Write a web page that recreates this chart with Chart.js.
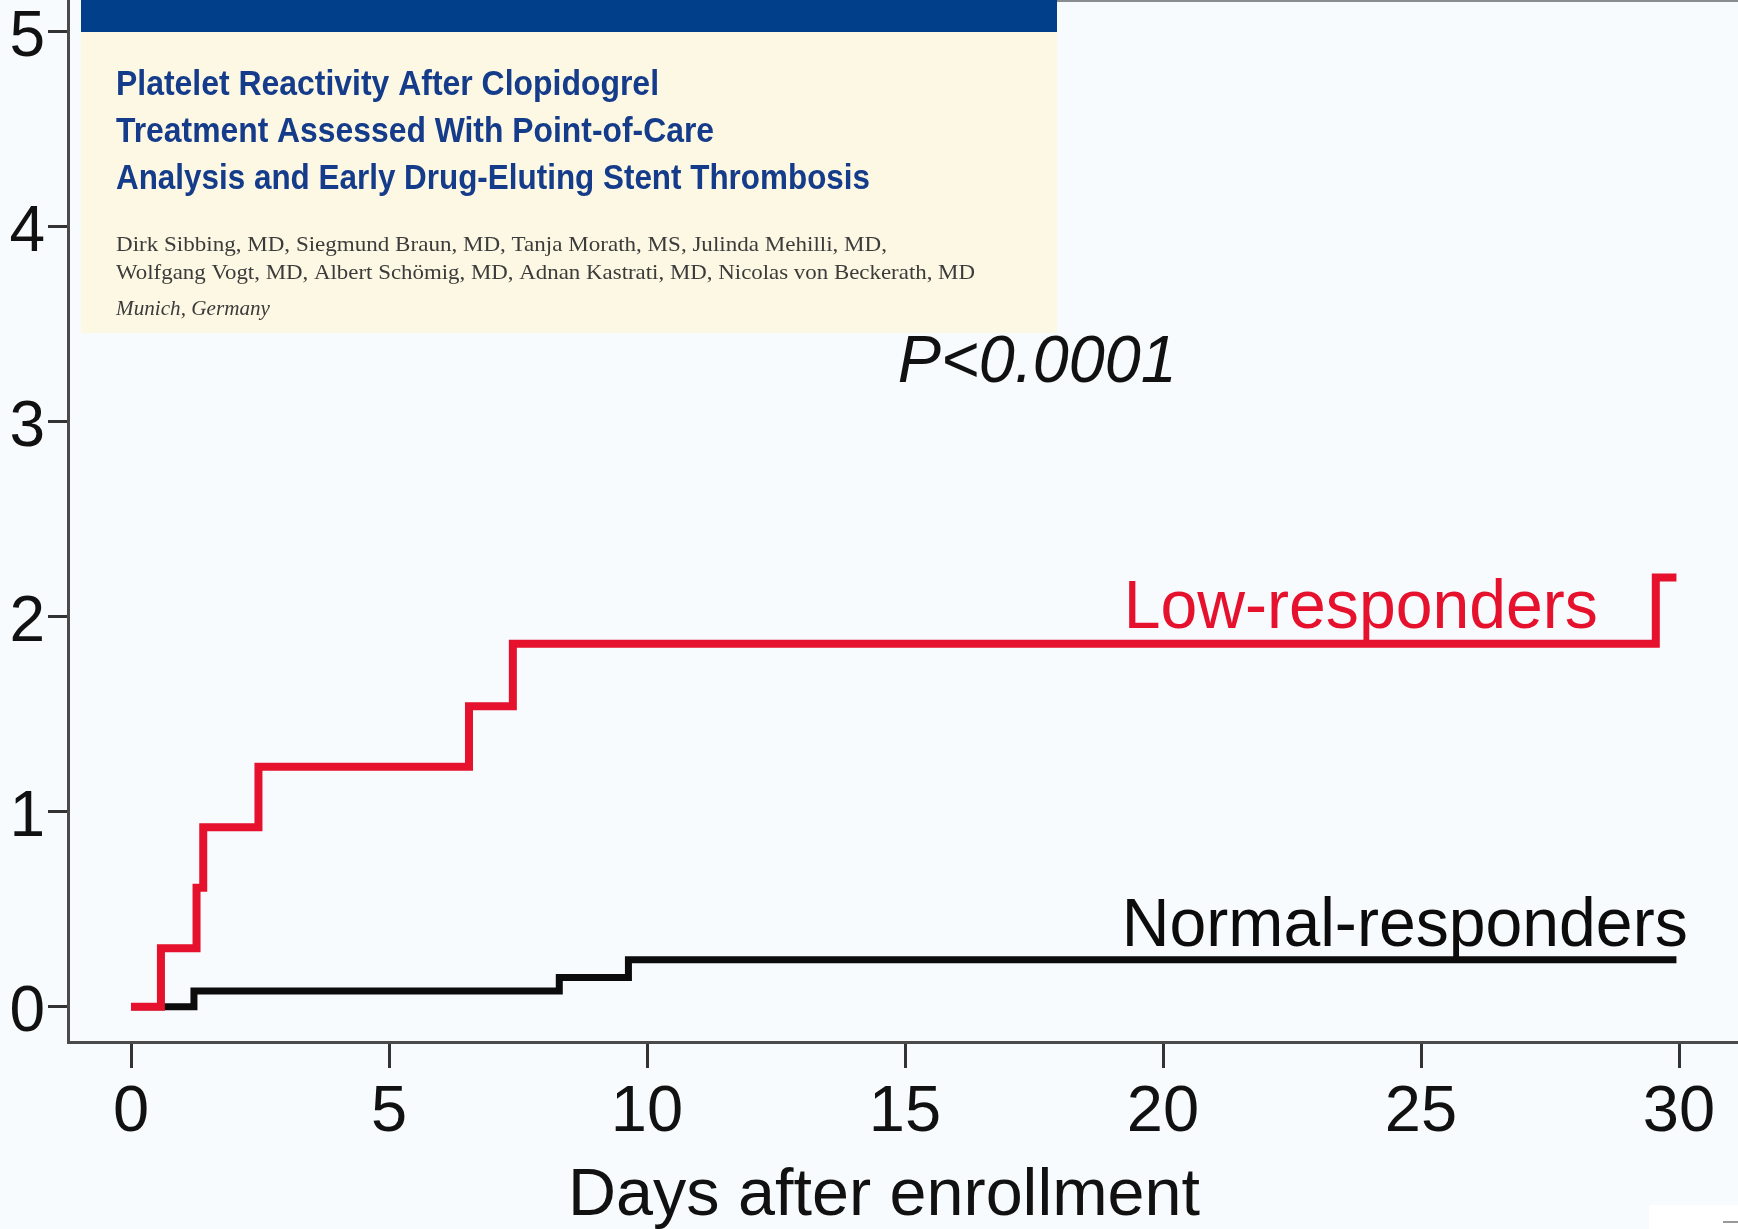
<!DOCTYPE html>
<html>
<head>
<meta charset="utf-8">
<script src="https://cdn.jsdelivr.net/npm/chart.js@4.4.1/dist/chart.umd.min.js"></script>
<style>
  html, body { margin: 0; padding: 0; background: #f7fbfe; overflow: hidden; }
  #wrap { width: 1738px; height: 1229px; position: relative; }
</style>
</head>
<body>
<div id="wrap"><canvas id="kmChart"></canvas></div>
<script>
// Kaplan-Meier steps: day of each event and cumulative rate (%) after it
const lowDays = [0, 0.58, 1.27, 1.40, 2.47, 6.55, 7.40, 29.55, 29.95];
const lowRate = [0, 0.30, 0.61, 0.92, 1.23, 1.54, 1.86, 2.20, 2.20];
const normalDays = [0, 1.22, 8.30, 9.64, 29.95];
const normalRate = [0, 0.08, 0.15, 0.24, 0.24];

const xTicks = [0, 5, 10, 15, 20, 25, 30];
const yTicks = [0, 1, 2, 3, 4, 5];

const seriesNames = ['Low-responders', 'Normal-responders'];
const pValueText = 'P<0.0001';
const xTitle = 'Days after enrollment';

const headerTitle = [
  'Platelet Reactivity After Clopidogrel',
  'Treatment Assessed With Point-of-Care',
  'Analysis and Early Drug-Eluting Stent Thrombosis'
];
const headerAuthors = [
  'Dirk Sibbing, MD, Siegmund Braun, MD, Tanja Morath, MS, Julinda Mehilli, MD,',
  'Wolfgang Vogt, MD, Albert Schömig, MD, Adnan Kastrati, MD, Nicolas von Beckerath, MD'
];
const headerPlace = 'Munich, Germany';

const RED = '#e6112c';
const BLACK = '#0c0c0c';
const SANS = '"Liberation Sans", Arial, Helvetica, sans-serif';

const toPoints = (xs, ys) => xs.map((d, i) => ({ x: d, y: ys[i] }));

// draw text squeezed/stretched to a given width
function fitText(ctx, text, x, y, w, sy) {
  const m = ctx.measureText(text).width;
  ctx.save();
  ctx.translate(x, y);
  ctx.scale(w / m, sy || 1);
  ctx.fillText(text, 0, 0);
  ctx.restore();
}

const decor = {
  id: 'decor',
  beforeDraw(chart) {
    const ctx = chart.ctx;
    ctx.save();
    ctx.fillStyle = '#f7fbfe';
    ctx.fillRect(0, 0, chart.width, chart.height);
    ctx.restore();
  },
  afterDraw(chart) {
    const { ctx, scales: { x, y } } = chart;
    ctx.save();
    ctx.textAlign = 'left';
    ctx.textBaseline = 'alphabetic';

    // curve labels and p value (slightly taller than wide, like the scan)
    ctx.font = '64px ' + SANS;
    ctx.fillStyle = RED;
    fitText(ctx, seriesNames[0], x.getPixelForValue(19.24), y.getPixelForValue(1.94), 474, 1.06);
    ctx.fillStyle = BLACK;
    fitText(ctx, seriesNames[1], x.getPixelForValue(19.2), y.getPixelForValue(0.313), 566, 1.06);
    ctx.font = 'italic 64px ' + SANS;
    ctx.fillStyle = '#111';
    fitText(ctx, pValueText, x.getPixelForValue(14.86), y.getPixelForValue(3.2), 279, 1.04);

    // axis title
    ctx.font = '64px ' + SANS;
    fitText(ctx, xTitle, 568, 1215, 632, 1.03);

    // faint frame remnant at top right
    ctx.fillStyle = '#8a8d90';
    ctx.fillRect(1057, 0, chart.width - 1057, 2);

    // article header pasted over the plot
    ctx.fillStyle = '#fdf8e3';
    ctx.fillRect(81, 0, 976, 333);
    ctx.fillStyle = '#023f8b';
    ctx.fillRect(81, 0, 976, 32);

    ctx.fillStyle = '#143c8a';
    ctx.font = 'bold 32px "Liberation Sans Narrow", ' + SANS;
    fitText(ctx, headerTitle[0], 116, 95, 543, 1.08);
    fitText(ctx, headerTitle[1], 116, 142, 598, 1.08);
    fitText(ctx, headerTitle[2], 116, 189, 754, 1.08);

    ctx.fillStyle = '#3b3b3b';
    ctx.font = '21px "Liberation Serif", "Times New Roman", serif';
    fitText(ctx, headerAuthors[0], 116, 251, 771);
    fitText(ctx, headerAuthors[1], 116, 279, 859);
    ctx.font = 'italic 21px "Liberation Serif", "Times New Roman", serif';
    fitText(ctx, headerPlace, 116, 315, 154);

    // bottom right corner patch
    ctx.fillStyle = '#ffffff';
    ctx.fillRect(1649, 1205, 89, 24);
    ctx.fillStyle = '#999';
    ctx.fillRect(1723, 1221, 15, 2);
    ctx.restore();
  }
};

new Chart(document.getElementById('kmChart').getContext('2d'), {
  type: 'line',
  data: {
    datasets: [{
      label: seriesNames[0],
      data: toPoints(lowDays, lowRate),
      borderColor: RED,
      borderWidth: 8,
      stepped: 'before',
      pointRadius: 0,
      fill: false,
      borderCapStyle: 'butt',
      borderJoinStyle: 'miter'
    }, {
      label: seriesNames[1],
      data: toPoints(normalDays, normalRate),
      borderColor: BLACK,
      borderWidth: 7,
      stepped: 'before',
      pointRadius: 0,
      fill: false,
      borderCapStyle: 'butt',
      borderJoinStyle: 'miter'
    }]
  },
  options: {
    responsive: true,
    maintainAspectRatio: false,
    animation: false,
    layout: { padding: 0 },
    plugins: {
      legend: { display: false },
      tooltip: { enabled: false }
    },
    scales: {
      x: {
        type: 'linear',
        min: -1.221,
        max: 31.143,
        afterBuildTicks: (s) => { s.ticks = xTicks.map(v => ({ value: v })); },
        afterFit: (s) => {
          s.height = 187;
          s.paddingLeft = 0; s.paddingRight = 0; s.paddingTop = 0; s.paddingBottom = 0;
        },
        border: { display: true, color: '#4a4a4a', width: 3 },
        grid: { drawOnChartArea: false, drawTicks: true, tickLength: 26, tickWidth: 3, tickColor: '#333' },
        ticks: {
          font: { family: SANS, size: 65 },
          color: '#111',
          padding: 6,
          maxRotation: 0,
          autoSkip: false
        }
      },
      y: {
        type: 'linear',
        min: -0.181,
        max: 5.159,
        afterBuildTicks: (s) => { s.ticks = yTicks.map(v => ({ value: v })); },
        afterFit: (s) => {
          s.width = 68;
          s.paddingLeft = 0; s.paddingRight = 0; s.paddingTop = 0; s.paddingBottom = 0;
        },
        border: { display: true, color: '#4a4a4a', width: 3 },
        grid: { drawOnChartArea: false, drawTicks: true, tickLength: 20, tickWidth: 3, tickColor: '#333' },
        ticks: {
          font: { family: SANS, size: 64 },
          color: '#111',
          padding: 3,
          labelOffset: 7,
          autoSkip: false
        }
      }
    }
  },
  plugins: [decor]
});
</script>
</body>
</html>
